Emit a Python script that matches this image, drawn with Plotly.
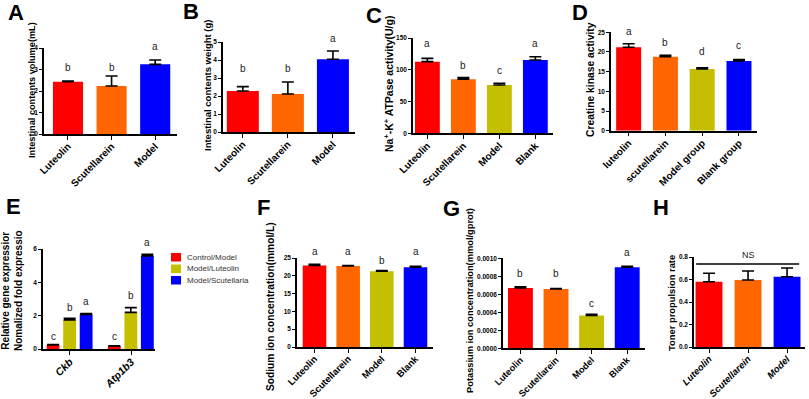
import plotly.graph_objects as go

W, H = 809, 399
FONT = "Arial, Liberation Sans, sans-serif"
RED, ORANGE, OLIVE, BLUE = "#FF0000", "#FF6600", "#C4BF00", "#0000FF"

# ---------------- data ----------------
a_groups = ["Luteolin", "Scutellarein", "Model"]
a_vals = [2.43, 2.23, 3.24]
a_err = [0.03, 0.47, 0.20]
a_sig = ["b", "b", "a"]
a_sig_pos = [3.07, 3.07, 4.05]

b_groups = ["Luteolin", "Scutellarein", "Model"]
b_vals = [2.28, 2.11, 4.04]
b_err = [0.24, 0.67, 0.46]
b_sig = ["b", "b", "a"]
b_sig_pos = [3.5, 3.5, 5.17]

c_groups = ["Luteolin", "Scutellarein", "Model", "Blank"]
c_vals = [112.8, 85.0, 76.0, 115.4]
c_err = [5.2, 2.6, 2.7, 5.2]
c_sig = ["a", "b", "c", "a"]
c_sig_pos = [141.7, 106.5, 98.6, 141.7]

d_groups = ["luteolin", "scutellarein", "Model group", "Blank group"]
d_vals = [21.2, 18.8, 15.7, 17.7]
d_err = [0.9, 0.35, 0.3, 0.35]
d_sig = ["a", "b", "d", "c"]
d_sig_pos = [25.2, 22.4, 20.1, 21.6]

e_genes = ["Ckb", "Atp1b3"]
e_series = ["Control/Model", "Model/Luteolin", "Model/Scutellaria"]
e_control = [0.24, 0.18]
e_luteolin = [1.74, 2.20]
e_scutellaria = [2.08, 5.58]
e_err_control = [0.02, 0.01]
e_err_luteolin = [0.10, 0.28]
e_err_scutellaria = [0.05, 0.10]
e_sig_control = ["c", "c"]
e_sig_luteolin = ["b", "b"]
e_sig_scutellaria = ["a", "a"]
e_sig_pos_control = [0.74, 0.74]
e_sig_pos_luteolin = [2.48, 3.2]
e_sig_pos_scutellaria = [2.88, 6.38]

f_groups = ["Luteolin", "Scutellarein", "Model", "Blank"]
f_vals = [22.9, 22.75, 21.3, 22.4]
f_err = [0.3, 0.15, 0.15, 0.25]
f_sig = ["a", "a", "b", "a"]
f_sig_pos = [26.7, 26.7, 24.3, 26.7]

g_groups = ["Luteolin", "Scutellarein", "Model", "Blank"]
g_vals = [0.00067, 0.00066, 0.000365, 0.00090]
g_err = [0.000012, 0.000005, 0.000012, 0.00001]
g_sig = ["b", "b", "c", "a"]
g_sig_pos = [0.00083, 0.00083, 0.00050, 0.00107]

h_groups = ["Luteolin", "Scutellarein", "Model"]
h_vals = [0.58, 0.595, 0.625]
h_err = [0.075, 0.08, 0.077]
h_ns_text = "NS"
h_ns_level = 0.738
h_ns_text_pos = 0.82

# ---------------- helpers ----------------
def xdom(l, r):
    return [l / W, r / W]

def ydom(top, bottom):
    return [1 - bottom / H, 1 - top / H]

fig = go.Figure()
layout = dict(
    width=W, height=H, margin=dict(l=0, r=0, t=0, b=0, autoexpand=False),
    paper_bgcolor="white", plot_bgcolor="white", barmode="overlay",
    showlegend=False, font=dict(family=FONT, color="black"),
)
annotations = []
shapes = []
yinfo = {}

def axis_names(i):
    return ("x" if i == 1 else f"x{i}"), ("y" if i == 1 else f"y{i}")

def to_paper_y(i, v):
    d, r = yinfo[i]
    return d[0] + (v - r[0]) / (r[1] - r[0]) * (d[1] - d[0])

def set_axes(i, xd, xr, yd, yr, dtick, tickformat=None, ticktext=None, cats=None, xfs=10):
    xn = "xaxis" if i == 1 else f"xaxis{i}"
    yn = "yaxis" if i == 1 else f"yaxis{i}"
    xa, ya = axis_names(i)
    yinfo[i] = (yd, yr)
    xdict = dict(
        domain=xd, range=xr, type="category", anchor=ya, showline=True,
        linecolor="black", linewidth=1.5, ticks="outside", ticklen=4, tickwidth=1.3,
        tickcolor="black", tickangle=-45, showgrid=False, zeroline=False,
        automargin=False, ticklabelstandoff=-3,
        tickfont=dict(family=FONT, size=xfs, color="black", weight="bold"),
    )
    if ticktext is not None:
        xdict.update(tickmode="array", tickvals=cats, ticktext=ticktext)
    ydict = dict(
        domain=yd, range=yr, dtick=dtick, tick0=0, anchor=xa, showline=True,
        linecolor="black", linewidth=1.5, ticks="outside", ticklen=3, tickwidth=1.3,
        tickcolor="black", showgrid=False, zeroline=False, automargin=False,
        tickfont=dict(family=FONT, size=6.5, color="black", weight="bold"),
    )
    if tickformat:
        ydict["tickformat"] = tickformat
    layout[xn] = xdict
    layout[yn] = ydict

def add_bars(i, cats, vals, errs, colors, width=0.7, offset=None, name=None):
    xa, ya = axis_names(i)
    kw = dict(width=width)
    if offset is not None:
        kw["offset"] = offset
    fig.add_trace(go.Bar(
        x=cats, y=vals, xaxis=xa, yaxis=ya, name=name,
        marker=dict(color=colors, line=dict(width=0)),
        error_y=dict(type="data", symmetric=False, array=errs,
                     arrayminus=[0] * len(errs), color="black",
                     thickness=1.6, width=6),
        **kw,
    ))

def add_letters(i, cats, letters, pos, shift=0.0):
    xa, ya = axis_names(i)
    for c, t, p in zip(cats, letters, pos):
        annotations.append(dict(
            x=c, y=to_paper_y(i, p), xref=xa, yref="paper", text=t, showarrow=False,
            xshift=shift, font=dict(family=FONT, size=10, color="#222"),
            xanchor="center", yanchor="middle"))

def ytitle(x, y, text, size=10):
    annotations.append(dict(
        x=x / W, y=1 - y / H, xref="paper", yref="paper", text=text,
        textangle=-90, showarrow=False, xanchor="center", yanchor="middle",
        font=dict(family=FONT, size=size, color="black", weight="bold")))

def panel_letter(x, y, text):
    annotations.append(dict(
        x=x / W, y=1 - y / H, xref="paper", yref="paper", text=text,
        showarrow=False, xanchor="center", yanchor="middle",
        font=dict(family=FONT, size=22, color="black", weight="bold")))

# ---------------- Panel A ----------------
add_bars(1, a_groups, a_vals, a_err, [RED, ORANGE, BLUE], width=0.69)
set_axes(1, xdom(44, 177), [-0.55, 2.5], ydom(48, 134), [0, 4], 1)
add_letters(1, a_groups, a_sig, a_sig_pos)
ytitle(32, 90, "Intestinal contents volume(mL)", size=9.2)
panel_letter(16, 13, "A")

# ---------------- Panel B ----------------
add_bars(2, b_groups, b_vals, b_err, [RED, ORANGE, BLUE], width=0.71)
set_axes(2, xdom(223, 355), [-0.44, 2.49], ydom(42, 132), [0, 5], 1)
add_letters(2, b_groups, b_sig, b_sig_pos)
ytitle(207, 86, "Intestinal contents weight (g)", size=9.5)
panel_letter(191, 11, "B")

# ---------------- Panel C ----------------
add_bars(3, c_groups, c_vals, c_err, [RED, ORANGE, OLIVE, BLUE], width=0.69)
set_axes(3, xdom(413, 553), [-0.4, 3.49], ydom(38, 133.3), [0, 150], 50)
add_letters(3, c_groups, c_sig, c_sig_pos)
ytitle(388, 84, "Na<sup>+</sup>-K<sup>+</sup> ATPase activity(U/g)", size=10.5)
panel_letter(374, 15, "C")

# ---------------- Panel D ----------------
add_bars(4, d_groups, d_vals, d_err, [RED, ORANGE, OLIVE, BLUE], width=0.68)
set_axes(4, xdom(611, 757), [-0.48, 3.49], ydom(32.3, 130.7), [0, 25], 5)
add_letters(4, d_groups, d_sig, d_sig_pos)
ytitle(590, 80, "Creatine kinase activity", size=10.3)
panel_letter(580, 12, "D")

# ---------------- Panel E ----------------
e_offsets = [-0.38, -0.11, 0.16]
set_axes(5, xdom(43, 155), [-0.44, 1.39], ydom(249, 349), [0, 6], 2,
         ticktext=[f"<i>{g}</i>" for g in e_genes], cats=e_genes, xfs=10.5)
add_bars(5, e_genes, e_control, e_err_control, RED, width=0.21, offset=e_offsets[0], name=e_series[0])
add_bars(5, e_genes, e_luteolin, e_err_luteolin, OLIVE, width=0.21, offset=e_offsets[1], name=e_series[1])
add_bars(5, e_genes, e_scutellaria, e_err_scutellaria, BLUE, width=0.21, offset=e_offsets[2], name=e_series[2])
unit_e = 61.0
for letters, pos, off in [(e_sig_control, e_sig_pos_control, e_offsets[0]),
                          (e_sig_luteolin, e_sig_pos_luteolin, e_offsets[1]),
                          (e_sig_scutellaria, e_sig_pos_scutellaria, e_offsets[2])]:
    add_letters(5, e_genes, letters, pos, shift=(off + 0.105) * unit_e)
ytitle(12, 291, "Relative gene expressior<br>Nomalized fold expressio", size=10)
panel_letter(13, 206, "E")
# legend for panel E
for k, (nm, col) in enumerate(zip(e_series, [RED, OLIVE, BLUE])):
    top = 253 + k * 11.5
    shapes.append(dict(type="rect", xref="paper", yref="paper",
                       x0=171 / W, x1=181 / W, y0=1 - (top + 8.5) / H, y1=1 - top / H,
                       fillcolor=col, line=dict(width=0)))
    annotations.append(dict(x=185 / W, y=1 - (top + 4.2) / H, xref="paper", yref="paper",
                            text=nm, showarrow=False, xanchor="left", yanchor="middle",
                            font=dict(family=FONT, size=8, color="#333")))

# ---------------- Panel F ----------------
set_axes(6, xdom(297, 433), [-0.52, 3.52], ydom(258, 347), [0, 25], 5, xfs=9.5)
add_bars(6, f_groups, f_vals, f_err, [RED, ORANGE, OLIVE, BLUE], width=0.7)
add_letters(6, f_groups, f_sig, f_sig_pos)
ytitle(270, 307, "Sodium ion concentration(mmol/L)", size=10.2)
panel_letter(263, 207, "F")

# ---------------- Panel G ----------------
set_axes(7, xdom(503, 645), [-0.49, 3.5], ydom(258.3, 348.3), [0, 0.001], 0.0002,
         tickformat=".4f", xfs=9.2)
add_bars(7, g_groups, g_vals, g_err, [RED, ORANGE, OLIVE, BLUE], width=0.7)
add_letters(7, g_groups, g_sig, g_sig_pos)
ytitle(470, 301, "Potassium ion concentration(mmol/gprot)", size=9.3)
panel_letter(452, 208, "G")

# ---------------- Panel H ----------------
set_axes(8, xdom(694, 805), [-0.385, 2.46], ydom(257, 347), [0, 0.8], 0.2,
         tickformat=".1f", ticktext=[f"<i>{g}</i>" for g in h_groups], cats=h_groups, xfs=9.5)
add_bars(8, h_groups, h_vals, h_err, [RED, ORANGE, BLUE], width=0.69)
shapes.append(dict(type="line", xref="x8", yref="y8", x0=-0.33, x1=2.31,
                   y0=h_ns_level, y1=h_ns_level, line=dict(color="black", width=1.6)))
annotations.append(dict(x=1, y=to_paper_y(8, h_ns_text_pos), xref="x8", yref="paper",
                        text=h_ns_text, showarrow=False, yanchor="middle",
                        font=dict(family=FONT, size=9, color="#222")))
ytitle(671, 303, "Toner propulsion rate", size=9.4)
panel_letter(661, 207, "H")

layout["annotations"] = annotations
layout["shapes"] = shapes
fig.update_layout(**layout)
fig.write_html(
    "out.html",
    config={"displayModeBar": False},
    post_script="document.body.style.margin='0';document.body.style.padding='0';",
)
